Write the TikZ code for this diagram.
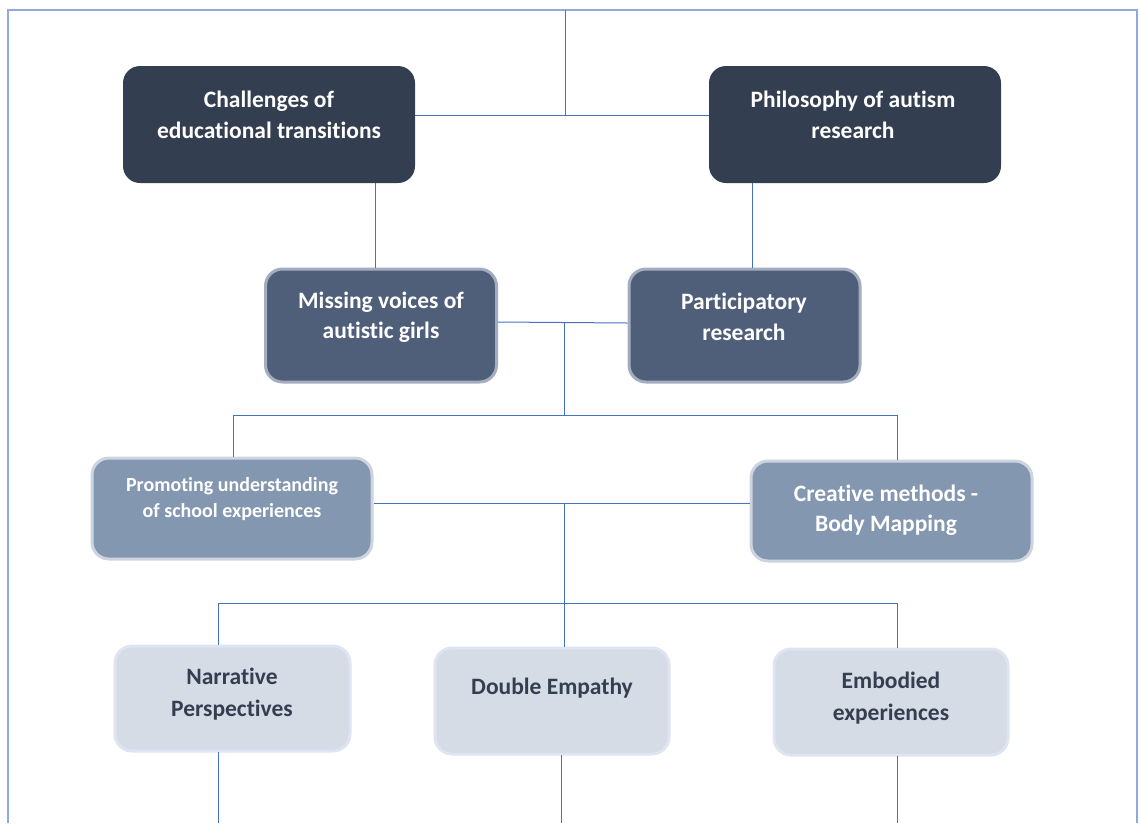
\documentclass[tikz,border=0pt]{standalone}
\usepackage{fontspec}
\setmainfont{Carlito}[Ligatures=NoCommon]
\usetikzlibrary{calc}
\definecolor{navy}{HTML}{333F50}
\definecolor{slate}{HTML}{4F5F7A}
\definecolor{slateedge}{HTML}{A3ADBF}
\definecolor{steel}{HTML}{8497B0}
\definecolor{steeledge}{HTML}{CDD4DF}
\definecolor{mist}{HTML}{D6DCE5}
\definecolor{mistedge}{HTML}{DEE4F1}
\definecolor{wire}{HTML}{4472C4}
\definecolor{framec}{HTML}{8FAADC}
\tikzset{
  x=1pt, y=-1pt,
  box/.style={rectangle, rounded corners=17pt, inner sep=0pt},
  lvlA/.style={box, fill=navy},
  lvlB/.style={box, fill=slate, draw=slateedge, line width=3pt},
  lvlC/.style={box, fill=steel, draw=steeledge, line width=3pt},
  lvlD/.style={box, fill=mist, draw=mistedge, line width=3pt},
  lightlabel/.style={font=\bfseries\fontsize{23.5}{30.5}\selectfont, text=white, align=center, inner sep=0pt},
  smalllabel/.style={font=\bfseries\fontsize{20}{26}\selectfont, text=white, align=center, inner sep=0pt},
  darklabel/.style={font=\bfseries\fontsize{23.5}{31.5}\selectfont, text=navy, align=center, inner sep=0pt},
  link/.style={draw=wire, line width=1pt},
}
\begin{document}
\begin{tikzpicture}
\useasboundingbox (0,0) rectangle (1139,823);
% outer frame (open at the bottom)
\coordinate (fbl) at (8,823);
\coordinate (ftl) at (8,10);
\coordinate (ftr) at (1137,10);
\coordinate (fbr) at (1137,823);
\draw[framec, line width=1.5pt] (fbl) -- (ftl) -- (ftr) -- (fbr);

% boxes
\node[lvlA, minimum width=292pt, minimum height=117pt] (chal) at (269,124.5) {};
\node[lvlA, minimum width=292pt, minimum height=117pt] (phil) at (855,124.5) {};
\node[lvlB, minimum width=231pt, minimum height=113pt] (miss) at (381,325.5) {};
\node[lvlB, minimum width=231pt, minimum height=113pt] (part) at (744.5,325.5) {};
\node[lvlC, minimum width=280pt, minimum height=101pt] (prom) at (232,508.5) {};
\node[lvlC, minimum width=281pt, minimum height=100pt] (crea) at (891.5,511) {};
\node[lvlD, minimum width=235pt, minimum height=105pt] (narr) at (232.5,698.5) {};
\node[lvlD, minimum width=234pt, minimum height=106pt] (dbl) at (552,701) {};
\node[lvlD, minimum width=234pt, minimum height=106pt] (embo) at (891,702) {};

% labels
\node[lightlabel] (tchal) at (269,115) {Challenges of\\educational transitions};
\node[lightlabel] (tphil) at (853,115) {Philosophy of autism\\research};
\node[lightlabel] (tmiss) at (381,317) {Missing voices of\\autistic girls};
\node[lightlabel] (tpart) at (744,317) {Participatory\\research};
\node[smalllabel] (tprom) at (232,499) {Promoting understanding\\of school experiences};
\node[lightlabel] (tcrea) at (886,510) {Creative methods -\\Body Mapping};
\node[darklabel] (tnarr) at (232,694) {Narrative\\Perspectives};
\node[darklabel] (tdbl) at (552,688) {Double Empathy};
\node[darklabel] (tembo) at (891,698) {Embodied\\experiences};

% junction points
\coordinate (jtop) at (565,115);
\coordinate (jmid) at (564,323);
\coordinate (bar1) at (564,415);
\coordinate (jlow) at (564,503);
\coordinate (bar2) at (564,603);

% top tier
\draw[link] (ftl -| jtop) -- (jtop);
\draw[link] (chal.east |- jtop) -- (phil.west |- jtop);
\draw[link] (375,183) -- (375,268);
\draw[link] (752,183) -- (752,268);

% second tier
\draw[link] (miss.east |- 0,322) -- (part.west |- 0,323);
\draw[link] (jmid) -- (bar1);
\draw[link] (233,415) -- (897,415);
\draw[link] (233,415) -- (233,457);
\draw[link] (897,415) -- (897,460);

% third tier
\draw[link] (prom.east |- jlow) -- (crea.west |- jlow);
\draw[link] (jlow) -- (bar2);
\draw[link] (218,603) -- (897,603);
\draw[link] (218,603) -- (218,645);
\draw[link] (bar2) -- (564,647);
\draw[link] (897,603) -- (897,648);

% tails running off the bottom edge
\draw[link] (218,752) -- (218,823);
\draw[link] (561,755) -- (561,823);
\draw[link] (897,756) -- (897,823);
\end{tikzpicture}
\end{document}
